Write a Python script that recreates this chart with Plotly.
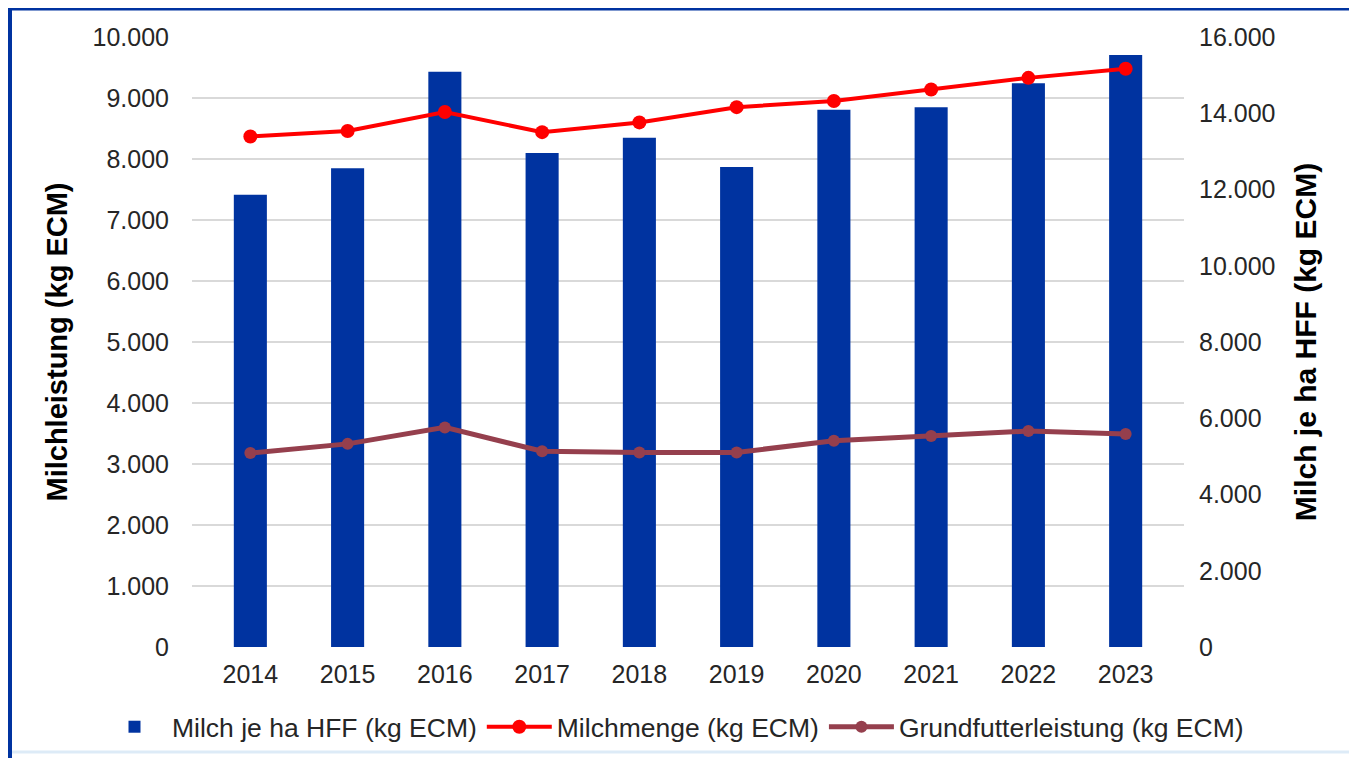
import plotly.graph_objects as go

years = ["2014", "2015", "2016", "2017", "2018", "2019", "2020", "2021", "2022", "2023"]
milch_je_ha_hff = [11860, 12560, 15090, 12960, 13360, 12590, 14090, 14160, 14790, 15530]
milchmenge = [8370, 8460, 8770, 8440, 8600, 8850, 8950, 9140, 9330, 9480]
grundfutterleistung = [3180, 3330, 3600, 3210, 3190, 3190, 3380, 3460, 3540, 3490]

left_ticks = list(range(0, 10001, 1000))
right_ticks = list(range(0, 16001, 2000))

FONT = "Liberation Sans, Arial, sans-serif"
OFF = 8  # default page body margin
W, H = 1357 - OFF, 758 - OFF
L, T = 192 - OFF, 37 - OFF
R = W - (1184 - OFF)
B = H - (647 - OFF)
PW, PH = W - L - R, H - T - B


def px(x):
    # screen pixel x -> paper coordinate
    return (x - OFF - L) / PW


def py(y):
    # screen pixel y -> paper coordinate
    return (H - B - (y - OFF)) / PH


fig = go.Figure()
# bars on the primary (right-side) axis so that the lines, on the overlaying axis, are drawn above them
fig.add_trace(go.Bar(
    x=years, y=milch_je_ha_hff, name="Milch je ha HFF (kg ECM)",
    marker=dict(color="#0033A0", line=dict(width=0)), width=0.34, yaxis="y",
))
fig.add_trace(go.Scatter(
    x=years, y=milchmenge, name="Milchmenge (kg ECM)", mode="lines+markers", yaxis="y2",
    line=dict(color="#FF0000", width=4), marker=dict(color="#FF0000", size=14),
))
fig.add_trace(go.Scatter(
    x=years, y=grundfutterleistung, name="Grundfutterleistung (kg ECM)", mode="lines+markers", yaxis="y2",
    line=dict(color="#953F4D", width=5), marker=dict(color="#953F4D", size=12),
))

fig.update_layout(
    width=W, height=H,
    margin=dict(l=L, r=R, t=T, b=B, autoexpand=False),
    paper_bgcolor="white", plot_bgcolor="white",
    separators=",.",
    font=dict(family=FONT, size=26, color="#262626"),
    showlegend=True,
    legend=dict(orientation="h", x=px(97), xanchor="left", y=py(727), yanchor="middle",
                font=dict(size=26.5, color="#262626"), traceorder="normal", itemwidth=65,
                bgcolor="rgba(0,0,0,0)"),
    xaxis=dict(
        type="category", showgrid=False, showline=False, zeroline=False,
        ticks="", ticklabelstandoff=10, tickfont=dict(size=25, color="#262626"), automargin=False,
    ),
    yaxis=dict(
        range=[0, 16000], tickvals=right_ticks, tickformat=",d", side="right",
        showgrid=False, zeroline=False, showline=False, automargin=False,
        ticks="", ticklabelstandoff=14, tickfont=dict(size=25, color="#262626"),
        title=dict(text="<b>Milch je ha HFF (kg ECM)</b>", font=dict(size=30, color="#000000"), standoff=20),
    ),
    yaxis2=dict(
        range=[0, 10000], tickvals=left_ticks, tickformat=",d", overlaying="y", side="left",
        showgrid=True, gridcolor="#D9D9D9", gridwidth=1.5, zeroline=False, showline=False, automargin=False,
        ticks="", ticklabelstandoff=22, tickfont=dict(size=25, color="#262626"),
        title=dict(text="<b>Milchleistung (kg ECM)</b>", font=dict(size=29, color="#000000"), standoff=16),
    ),
    shapes=[
        dict(type="line", xref="paper", yref="paper", x0=px(10), x1=px(1357), y0=py(9), y1=py(9),
             line=dict(color="#0033A0", width=3)),
        dict(type="line", xref="paper", yref="paper", x0=px(10), x1=px(10), y0=py(8), y1=py(758),
             line=dict(color="#0033A0", width=4)),
        dict(type="line", xref="paper", yref="paper", x0=px(12), x1=px(1357), y0=py(752), y1=py(752),
             line=dict(color="#DDEBF7", width=3)),
    ],
)

fig.write_html("out.html")
